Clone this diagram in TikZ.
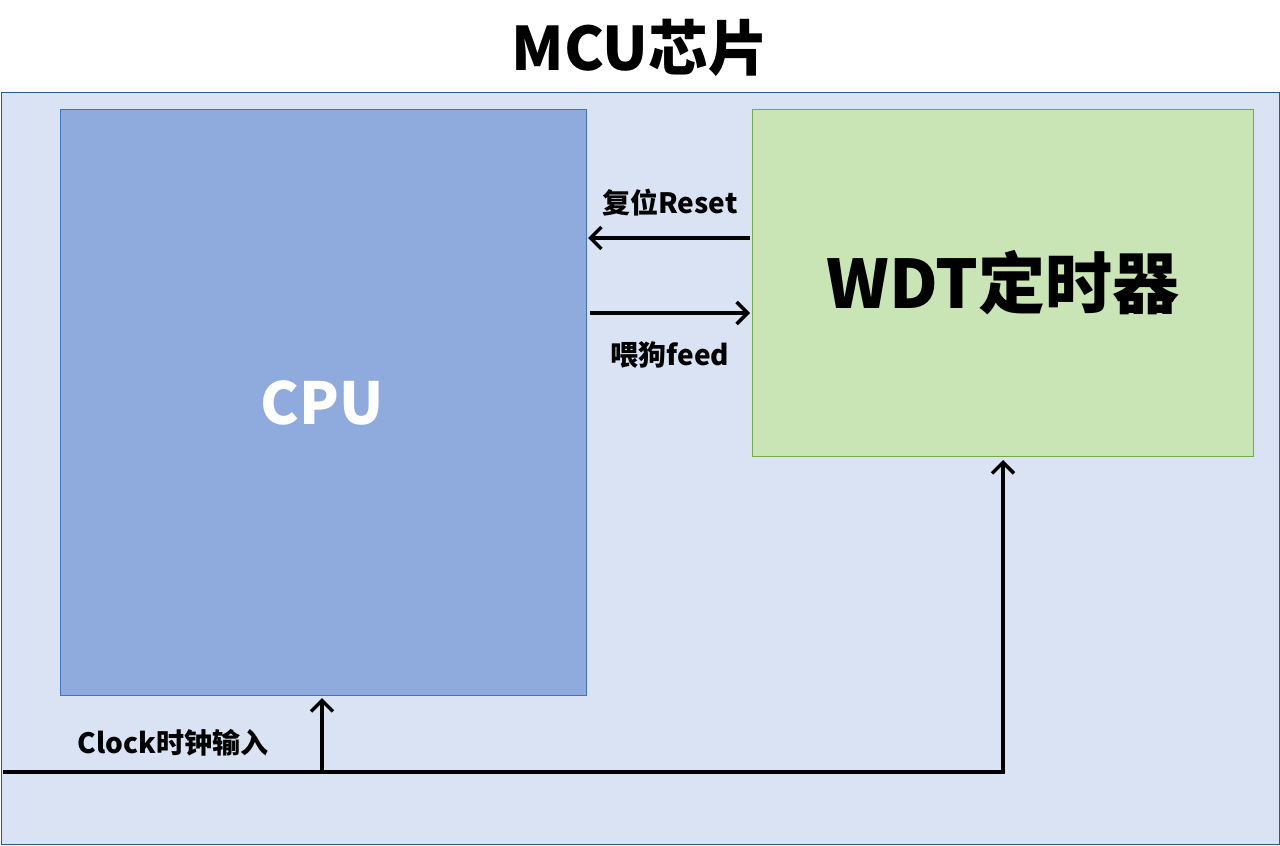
\documentclass[tikz,border=0pt]{standalone}
\usepackage{fontspec}
\setmainfont{Carlito}
\newfontfamily\cjk{Noto Sans CJK SC}
\usetikzlibrary{arrows.meta}
\definecolor{chipfill}{HTML}{DAE3F3}
\definecolor{chipline}{HTML}{2F5597}
\definecolor{cpufill}{HTML}{8FAADC}
\definecolor{cpuline}{HTML}{4472C4}
\definecolor{wdtfill}{HTML}{C9E5B5}
\definecolor{wdtline}{HTML}{70AD47}
\tikzset{
  blk/.style={draw, line width=1pt, inner sep=0pt, anchor=north west},
  wire/.style={line width=3.5pt, black, line join=miter},
  arr/.style={wire, -{Straight Barb[length=11pt,width=22pt,line width=3.5pt]}},
  lbl/.style={font=\cjk\bfseries\fontsize{28}{32}\selectfont}
}
\begin{document}
\begin{tikzpicture}[x=1pt,y=-1pt]
\useasboundingbox (0,0) rectangle (1280,846);
\node[font=\cjk\bfseries\fontsize{60}{70}\selectfont] (title) at (640,48) {MCU芯片};
\node[blk, fill=chipfill, draw=chipline, minimum width=1278pt, minimum height=752pt] (chip) at (1,92) {};
\node[blk, fill=cpufill, draw=cpuline, minimum width=526pt, minimum height=586pt] (cpu) at (60,109) {};
\node[white, font=\cjk\bfseries\fontsize{58}{66}\selectfont] (cputxt) at (322,403) {CPU};
\node[blk, fill=wdtfill, draw=wdtline, minimum width=501pt, minimum height=347pt] (wdt) at (752,109) {};
\node[font=\cjk\bfseries\fontsize{67}{76}\selectfont] (wdttxt) at (1003,283) {WDT定时器};
\coordinate (r1) at (750,238); \coordinate (r2) at (588,238);
\coordinate (f1) at (590,313); \coordinate (f2) at (750,313);
\draw[arr] (r1) -- (r2);
\draw[arr] (f1) -- (f2);
\node[lbl] (rl) at (670,203) {复位Reset};
\node[lbl] (fl) at (670,355) {喂狗feed};
\coordinate (c0) at (3,772); \coordinate (cb) at (322,772);
\coordinate (cc) at (1003,772); \coordinate (cw) at (1003,460);
\coordinate (ccpu) at (322,698);
\draw[arr] (c0) -- (cc) -- (cw);
\draw[arr] (cb) -- (ccpu);
\node[lbl] (cl) at (173,743) {Clock时钟输入};
\end{tikzpicture}
\end{document}
